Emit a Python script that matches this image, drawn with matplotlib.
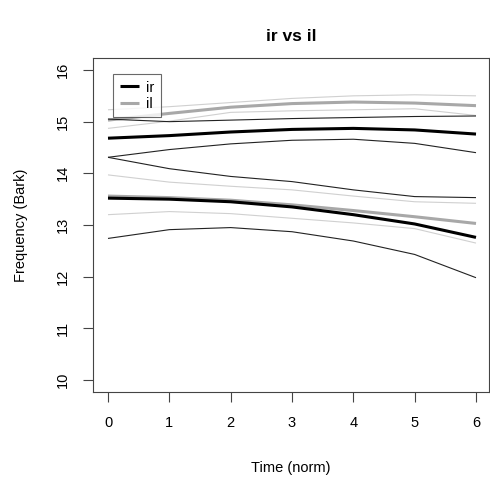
import matplotlib
matplotlib.use("Agg")
import matplotlib.pyplot as plt

plt.rcParams['font.family'] = ['Liberation Sans', 'DejaVu Sans']

time = [0, 1, 2, 3, 4, 5, 6]

# ir (black): upper formant mean and +/- sd
ir_hi_mean = [14.68, 14.73, 14.80, 14.85, 14.87, 14.84, 14.76]
ir_hi_lo = [14.31, 14.46, 14.57, 14.64, 14.66, 14.58, 14.40]
ir_hi_up = [15.05, 15.00, 15.03, 15.06, 15.08, 15.10, 15.11]
# ir lower formant
ir_lo_mean = [13.52, 13.50, 13.45, 13.35, 13.20, 13.02, 12.76]
ir_lo_up = [14.31, 14.09, 13.94, 13.84, 13.68, 13.55, 13.53]
ir_lo_lo = [12.74, 12.91, 12.95, 12.87, 12.69, 12.43, 11.98]

# il (gray): upper formant
il_hi_mean = [15.03, 15.16, 15.28, 15.35, 15.38, 15.36, 15.31]
il_hi_up = [15.23, 15.29, 15.37, 15.45, 15.50, 15.52, 15.50]
il_hi_lo = [14.87, 15.01, 15.18, 15.21, 15.23, 15.25, 15.12]
# il lower formant
il_lo_mean = [13.56, 13.53, 13.48, 13.39, 13.28, 13.16, 13.03]
il_lo_up = [13.97, 13.83, 13.75, 13.68, 13.56, 13.45, 13.42]
il_lo_lo = [13.20, 13.26, 13.22, 13.13, 13.04, 12.93, 12.65]

y_ticks = [10, 11, 12, 13, 14, 15, 16]
x_ticks = [0, 1, 2, 3, 4, 5, 6]

W, H = 490, 484
fig = plt.figure(figsize=(W / 100, H / 100), dpi=100)
left, right = 93.3, 489.0
top, bottom = 57.6, 392.4
ax = fig.add_axes([left / W, (H - bottom) / H, (right - left) / W, (bottom - top) / H])

light = '#d0d0d0'
mid = '#a8a8a8'
thin_lw = 0.8
thick_lw = 2.2

# il first (gray)
for s in (il_hi_up, il_hi_lo, il_lo_up, il_lo_lo):
    ax.plot(time, s, color=light, lw=thin_lw, solid_capstyle='butt')
ax.plot(time, il_hi_mean, color=mid, lw=thick_lw, solid_capstyle='butt')
ax.plot(time, il_lo_mean, color=mid, lw=thick_lw, solid_capstyle='butt', label='il')
# ir (black)
for s in (ir_hi_up, ir_hi_lo, ir_lo_up, ir_lo_lo):
    ax.plot(time, s, color='#222222', lw=thin_lw, solid_capstyle='butt')
ax.plot(time, ir_hi_mean, color='black', lw=thick_lw, solid_capstyle='butt')
ax.plot(time, ir_lo_mean, color='black', lw=thick_lw, solid_capstyle='butt', label='ir')

px_per_x = (476 - 108) / 6.0
x0 = -(108 - left) / px_per_x
x1 = x0 + (right - left) / px_per_x
ax.set_xlim(x0, x1)
ax.set_ylim(9.76, 16.24)
ax.set_xticks(x_ticks)
ax.set_yticks(y_ticks)
ax.set_xticklabels([str(v) for v in x_ticks])
ax.set_yticklabels([str(v) for v in y_ticks], rotation=90, va='center')

fs = 10.5
ax.tick_params(direction='out', length=7.2, width=0.8, color='#444444',
               labelsize=fs, pad=10)
for sp in ax.spines.values():
    sp.set_linewidth(0.8)
    sp.set_color('#444444')

ax.set_xlabel('Time (norm)', fontsize=fs, va='center')
ax.xaxis.set_label_coords(0.5, -(468 - bottom) / (bottom - top))
ax.set_ylabel('Frequency (Bark)', fontsize=fs, va='center')
ax.yaxis.set_label_coords(-(left - 21) / (right - left), 0.5)
ax.set_title('ir vs il', fontsize=12.5, fontweight='bold', va='center',
             y=1 + (top - 45) / (bottom - top))

handles, labels = ax.get_legend_handles_labels()
order = [labels.index('ir'), labels.index('il')]
leg = ax.legend([handles[i] for i in order], [labels[i] for i in order],
                loc='upper left',
                bbox_to_anchor=((113 - left) / (right - left), (bottom - 74) / (bottom - top)),
                borderaxespad=0, frameon=True, fancybox=False, fontsize=fs,
                handlelength=1.3, handletextpad=0.5, labelspacing=0.15,
                borderpad=0.45)
leg.get_frame().set_edgecolor('#444444')
leg.get_frame().set_linewidth(0.8)

fig.savefig('out.png', dpi=100)
